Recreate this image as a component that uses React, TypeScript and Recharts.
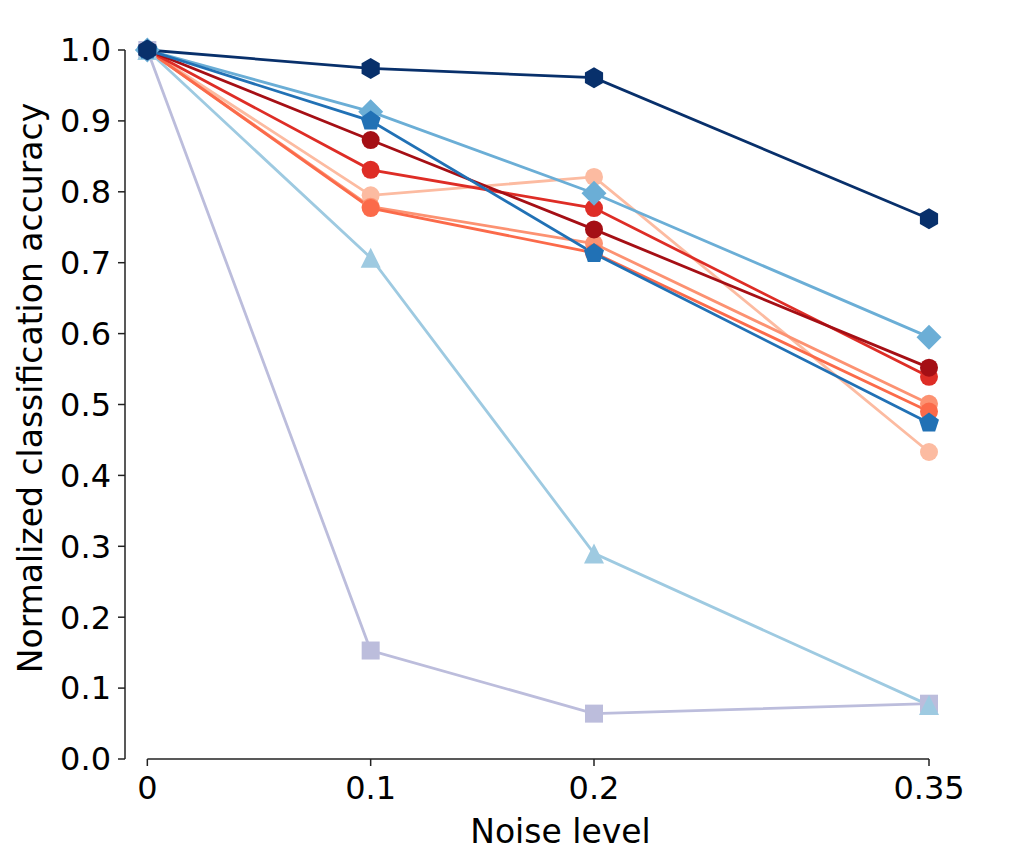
import React from 'react'
import { LineChart, Line, XAxis, YAxis, ReferenceLine } from 'recharts'

// noise levels on the x axis
const noiseLevels = [0, 0.1, 0.2, 0.35]
const xTicks = [0, 0.1, 0.2, 0.35]
const yTicks = [0, 0.1, 0.2, 0.3, 0.4, 0.5, 0.6, 0.7, 0.8, 0.9, 1.0]

// normalized accuracy per model
const squareSeries = [1.0, 0.153, 0.064, 0.078]
const triangleSeries = [1.0, 0.707, 0.29, 0.076]
const lightSalmonSeries = [1.0, 0.795, 0.821, 0.433]
const salmonSeries = [1.0, 0.779, 0.727, 0.501]
const orangeRedSeries = [1.0, 0.777, 0.714, 0.49]
const redSeries = [1.0, 0.831, 0.777, 0.539]
const darkRedSeries = [1.0, 0.873, 0.747, 0.552]
const diamondSeries = [1.0, 0.913, 0.798, 0.595]
const pentagonSeries = [1.0, 0.9, 0.713, 0.474]
const hexagonSeries = [1.0, 0.974, 0.961, 0.762]

type Shape = 'circle' | 'square' | 'triangle' | 'diamond' | 'pentagon' | 'hexagon'

const seriesList: { key: string; values: number[]; color: string; shape: Shape }[] = [
    { key: 'square', values: squareSeries, color: '#bcbddc', shape: 'square' },
    { key: 'triangle', values: triangleSeries, color: '#9ecae1', shape: 'triangle' },
    { key: 'lightSalmon', values: lightSalmonSeries, color: '#fcbba1', shape: 'circle' },
    { key: 'salmon', values: salmonSeries, color: '#fc9272', shape: 'circle' },
    { key: 'orangeRed', values: orangeRedSeries, color: '#fb6a4a', shape: 'circle' },
    { key: 'red', values: redSeries, color: '#de2d26', shape: 'circle' },
    { key: 'darkRed', values: darkRedSeries, color: '#a50f15', shape: 'circle' },
    { key: 'diamond', values: diamondSeries, color: '#6baed6', shape: 'diamond' },
    { key: 'pentagon', values: pentagonSeries, color: '#2171b5', shape: 'pentagon' },
    { key: 'hexagon', values: hexagonSeries, color: '#08306b', shape: 'hexagon' },
]

const data = noiseLevels.map((x, i) => {
    const row: Record<string, number> = { x }
    seriesList.forEach((s) => {
        row[s.key] = s.values[i]
    })
    return row
})

const FONT = '"DejaVu Sans", sans-serif'
const AXIS = '#222'

function polygon(cx: number, cy: number, r: number, n: number) {
    const pts: string[] = []
    for (let k = 0; k < n; k++) {
        const a = -Math.PI / 2 + (2 * Math.PI * k) / n
        pts.push(`${cx + r * Math.cos(a)},${cy + r * Math.sin(a)}`)
    }
    return pts.join(' ')
}

function Marker({ cx, cy, shape, color }: { cx: number; cy: number; shape: Shape; color: string }) {
    if (cx == null || cy == null) return null
    switch (shape) {
        case 'circle':
            return <circle cx={cx} cy={cy} r={9} fill={color} />
        case 'square':
            return <rect x={cx - 9} y={cy - 9} width={18} height={18} fill={color} />
        case 'triangle':
            return (
                <polygon
                    points={`${cx},${cy - 10} ${cx - 10},${cy + 10} ${cx + 10},${cy + 10}`}
                    fill={color}
                />
            )
        case 'diamond':
            return (
                <polygon
                    points={`${cx},${cy - 12.5} ${cx + 12.5},${cy} ${cx},${cy + 12.5} ${cx - 12.5},${cy}`}
                    fill={color}
                />
            )
        case 'pentagon':
            return <polygon points={polygon(cx, cy, 10.5, 5)} fill={color} />
        case 'hexagon':
            return <polygon points={polygon(cx, cy, 10.5, 6)} fill={color} />
    }
    return null
}

const makeDot = (shape: Shape, color: string, name: string) => (p: any) => (
    <Marker key={`${name}-${p.index}`} cx={p.cx} cy={p.cy} shape={shape} color={color} />
)

export default function App() {
    return (
        <div style={{ position: 'absolute', left: 0, top: 0, background: '#fff' }}>
            <LineChart
                width={1011}
                height={864}
                data={data}
                margin={{ top: 50, right: 15, bottom: 0, left: 0 }}
            >
                <XAxis
                    type="number"
                    dataKey="x"
                    domain={[-0.01, 0.38]}
                    ticks={xTicks}
                    tickFormatter={(v: number) => String(v)}
                    height={105}
                    axisLine={false}
                    tickSize={7}
                    tickMargin={10}
                    tickLine={{ stroke: AXIS, strokeWidth: 1.5 }}
                    tick={{ fill: '#000', fontSize: 32, fontFamily: FONT }}
                    label={{
                        value: 'Noise level',
                        position: 'insideBottom',
                        offset: 21,
                        fontSize: 33,
                        fill: '#000',
                        fontFamily: FONT,
                    }}
                />
                <YAxis
                    type="number"
                    domain={[0, 1]}
                    ticks={yTicks}
                    tickFormatter={(v: number) => v.toFixed(1)}
                    width={125}
                    tickSize={7}
                    tickMargin={7}
                    axisLine={{ stroke: AXIS, strokeWidth: 1.5 }}
                    tickLine={{ stroke: AXIS, strokeWidth: 1.5 }}
                    tick={{ fill: '#000', fontSize: 32, fontFamily: FONT }}
                    label={{
                        content: () => (
                            <text
                                x={30}
                                y={388}
                                transform="rotate(-90 30 388)"
                                textAnchor="middle"
                                dominantBaseline="central"
                                fontSize={33}
                                fontFamily={FONT}
                                fill="#000"
                            >
                                Normalized classification accuracy
                            </text>
                        ),
                    }}
                />
                <ReferenceLine
                    segment={[
                        { x: 0, y: 0 },
                        { x: 0.35, y: 0 },
                    ]}
                    stroke={AXIS}
                    strokeWidth={1.5}
                    ifOverflow="visible"
                />
                {seriesList.map((s) => (
                    <Line
                        key={s.key}
                        dataKey={s.key}
                        type="linear"
                        stroke={s.color}
                        strokeWidth={2.8}
                        dot={makeDot(s.shape, s.color, s.key)}
                        activeDot={false}
                        isAnimationActive={false}
                    />
                ))}
            </LineChart>
        </div>
    )
}
